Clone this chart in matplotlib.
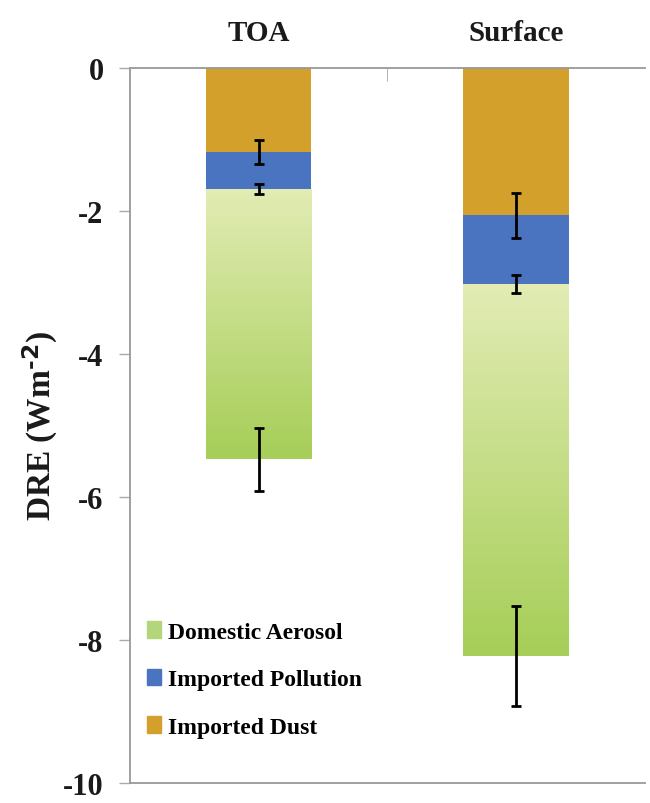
import numpy as np
import matplotlib
matplotlib.use("Agg")
import matplotlib.pyplot as plt
from matplotlib.patches import Patch
from matplotlib.colors import LinearSegmentedColormap

# values (magnitudes, plotted downward)
categories = ["TOA", "Surface"]
dust = [1.17, 2.06]
pollution = [0.52, 0.96]
domestic = [3.78, 5.20]
err_dust = [0.17, 0.32]
err_pollution = [0.07, 0.12]
err_domestic = [0.44, 0.70]
yticks = [0, -2, -4, -6, -8, -10]
ytick_labels = ["0", "-2", "-4", "-6", "-8", "-10"]
legend_labels = ["Domestic Aerosol", "Imported Pollution", "Imported Dust"]

c_dust = "#d3a02c"
c_poll = "#4a73c0"
c_dom_top = "#e2ecb4"
c_dom_bot = "#a6ce58"
c_dom_leg = "#b3d67a"

plt.rcParams["font.family"] = "Liberation Serif"
plt.rcParams["font.weight"] = "bold"
plt.rcParams["axes.labelweight"] = "bold"
plt.rcParams["mathtext.default"] = "regular"
plt.rcParams["axes.unicode_minus"] = False

fig = plt.figure(figsize=(6.5, 8.04), dpi=100)
ax = fig.add_axes([0.2, 0.025, 0.792, 0.889])

x = np.arange(len(categories))
w = 0.41
dust_n = -np.array(dust)
poll_end = dust_n - np.array(pollution)
dom_end = poll_end - np.array(domestic)

ax.bar(x, dust_n, width=w, color=c_dust, zorder=2)
ax.bar(x, -np.array(pollution), bottom=dust_n, width=w, color=c_poll, zorder=2)
dom_bars = ax.bar(x, -np.array(domestic), bottom=poll_end, width=w,
                  facecolor="none", edgecolor="none", zorder=2)

# vertical light-to-darker green gradient inside the domestic bars
cmap = LinearSegmentedColormap.from_list("dom", [c_dom_top, c_dom_bot])
grad = np.linspace(0, 1, 256).reshape(-1, 1)
for p in dom_bars:
    x0, y0 = p.get_x(), p.get_y()
    x1, y1 = x0 + p.get_width(), y0 + p.get_height()
    im = ax.imshow(grad, cmap=cmap, aspect="auto", origin="upper",
                   extent=[x0, x1, min(y0, y1), max(y0, y1)], zorder=2)
    im.set_clip_path(p)

ekw = dict(fmt="none", ecolor="black", elinewidth=2, capsize=3.8, capthick=2, zorder=4)
ax.errorbar(x, dust_n, yerr=err_dust, **ekw)
ax.errorbar(x, poll_end, yerr=err_pollution, **ekw)
ax.errorbar(x, dom_end, yerr=err_domestic, **ekw)

ax.set_xlim(-0.5, 1.5)
ax.set_ylim(-10, 0)

ax.set_yticks(yticks)
ax.set_yticklabels(ytick_labels)
ax.tick_params(axis="y", direction="out", length=8, width=1, color="#aaaaaa",
               pad=11, labelsize=22, labelcolor="#1a1a1a")

ax.xaxis.tick_top()
ax.set_xticks(x)
ax.set_xticklabels(categories)
ax.tick_params(axis="x", which="major", length=0, pad=16, labelsize=21,
               labelcolor="#1a1a1a")
ax.set_xticks([0.5], minor=True)
ax.tick_params(axis="x", which="minor", direction="in", length=9, color="#aaaaaa")

for s in ["left", "top", "bottom"]:
    ax.spines[s].set_color("#999999")
    ax.spines[s].set_linewidth(1.3)
ax.spines["right"].set_visible(False)

ax.set_ylabel("DRE (Wm$^{\\text{-2}}$)", fontsize=24, labelpad=2, color="#1a1a1a")

handles = [Patch(color=c_dom_leg), Patch(color=c_poll), Patch(color=c_dust)]
ax.legend(handles, legend_labels, loc="lower left", bbox_to_anchor=(0.0, 0.04),
          frameon=False, fontsize=17, handlelength=0.6, handleheight=0.7,
          handletextpad=0.3, labelspacing=1.1, borderaxespad=0.3)

fig.savefig("out.png", dpi=100)
